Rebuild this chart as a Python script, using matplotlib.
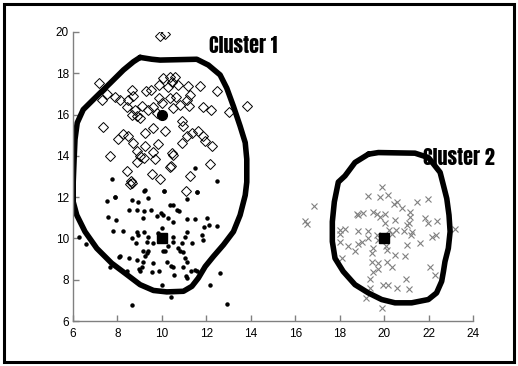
import numpy as np
import matplotlib
matplotlib.use('Agg')
from matplotlib import pyplot as plt
from matplotlib.patches import Rectangle

# cluster 1, upper group (open diamonds)
c1a_x = [9.92, 10.14, 7.16, 7.29, 7.55, 7.89, 8.12, 8.42, 8.67, 8.72, 8.49, 8.87, 9.02, 8.64, 8.79,
         9.09, 9.27, 9.51, 9.39, 9.62, 9.77, 9.89, 10.07, 10.37, 10.59, 9.89, 9.99, 10.29, 10.44,
         10.74, 10.37, 10.64, 10.52, 10.82, 11.12, 11.19, 11.27, 11.24, 11.72, 11.87, 12.2, 12.47,
         13.0, 13.82, 7.37, 8.04, 8.27, 8.49, 8.72, 8.87, 9.02, 9.24, 8.87, 9.2, 9.62, 9.69, 9.84,
         9.24, 9.62, 10.14, 10.44, 10.52, 10.4, 10.89, 10.94, 10.89, 11.12, 11.34, 11.64, 11.87,
         11.94, 12.24, 12.17, 7.67, 8.42, 9.54, 9.92, 11.27, 8.6, 10.37, 11.07, 8.57, 8.64]
c1a_y = [19.8, 19.9, 17.55, 16.69, 17.0, 16.85, 16.72, 16.37, 17.17, 16.88, 16.69, 15.92, 15.84,
         16.0, 16.24, 16.4, 17.12, 17.17, 16.24, 16.37, 16.08, 17.44, 17.76, 17.81, 17.84, 16.8,
         16.56, 17.33, 17.6, 17.44, 16.8, 16.85, 16.32, 16.48, 16.72, 17.36, 16.96, 16.4, 17.36,
         16.37, 16.24, 17.12, 16.11, 16.43, 15.39, 14.83, 15.04, 14.96, 14.64, 14.24, 14.0, 14.48,
         13.68, 13.92, 14.19, 13.87, 14.56, 15.09, 15.36, 15.2, 14.15, 14.03, 13.52, 15.68, 15.47,
         14.64, 14.96, 15.12, 15.2, 14.96, 14.72, 14.48, 13.6, 14.0, 13.28, 13.12, 12.88, 13.04,
         12.8, 13.44, 12.3, 12.65, 12.68]

# cluster 1, lower group (dots)
c1b_x = [6.28, 6.57, 7.55, 7.89, 7.59, 7.94, 7.79, 8.24, 8.64, 8.94, 8.54, 8.9, 9.24, 9.36, 9.2,
         9.5, 9.77, 9.14, 10.1, 9.95, 10.07, 10.37, 10.52, 10.67, 10.79, 10.29, 10.52, 11.12, 11.6,
         11.15, 11.5, 12.02, 12.14, 11.9, 12.5, 11.8, 11.87, 11.34, 11.12, 11.05, 10.9, 10.52,
         10.49, 10.29, 10.07, 9.84, 9.99, 9.62, 9.39, 9.32, 8.94, 8.84, 8.67, 8.87, 9.2, 9.17,
         9.32, 9.24, 9.39, 9.17, 9.09, 9.02, 8.99, 8.9, 8.54, 8.12, 8.09, 8.42, 9.54, 9.62, 9.89,
         10.22, 10.4, 10.52, 10.14, 10.74, 10.82, 10.94, 11.05, 11.12, 10.94, 11.09, 11.15, 11.3,
         11.5, 11.6, 10.55, 9.99, 10.41, 8.67, 12.17, 12.62, 12.92, 7.67, 11.5, 12.47, 7.74, 9.21,
         10.11, 11.6, 7.89]
c1b_y = [10.09, 9.72, 11.82, 12.01, 11.05, 10.89, 10.36, 10.36, 11.85, 11.77, 11.37, 11.37, 12.33,
         11.98, 11.32, 11.37, 11.1, 11.0, 12.28, 11.25, 11.13, 11.61, 11.64, 11.37, 11.32, 10.97,
         10.81, 11.9, 12.25, 10.94, 10.94, 11.0, 10.65, 10.57, 10.6, 10.17, 9.93, 9.8, 10.33, 10.09,
         9.77, 10.09, 9.82, 9.64, 9.41, 10.24, 10.49, 9.77, 10.09, 9.85, 10.17, 9.77, 10.0, 10.29,
         10.33, 9.37, 9.29, 9.17, 9.37, 8.88, 8.64, 8.4, 8.53, 8.97, 9.04, 9.17, 9.08, 8.4, 8.37,
         8.8, 8.43, 8.88, 8.68, 8.6, 9.37, 9.52, 9.4, 9.33, 9.04, 8.88, 8.6, 8.16, 8.08, 8.43, 8.48,
         8.4, 8.21, 7.73, 7.17, 6.77, 7.76, 8.32, 6.8, 8.64, 13.39, 12.79, 12.88, 12.31, 12.28,
         12.24, 12.0]

# cluster 2 (crosses)
c2_x = [16.86, 16.46, 16.55, 19.89, 19.29, 19.81, 20.19, 20.46, 20.6, 20.79, 21.46, 21.99, 18.76,
        18.84, 19.06, 19.51, 19.7, 19.81, 20.04, 20.04, 20.49, 21.16, 21.16, 21.1, 21.84, 21.99,
        22.36, 18.01, 18.26, 18.01, 18.84, 19.29, 19.29, 19.66, 19.74, 20.22, 20.34, 20.52, 20.91,
        21.01, 21.21, 21.27, 22.14, 22.32, 23.19, 18.01, 18.39, 18.69, 18.81, 18.99, 19.51, 19.44,
        20.07, 20.11, 21.01, 21.61, 20.49, 20.94, 18.09, 19.44, 19.74, 20.11, 20.34, 19.74, 19.51,
        22.06, 22.29, 19.36, 19.96, 20.19, 20.56, 20.97, 21.12, 19.36, 19.17, 19.89]
c2_y = [11.58, 10.84, 10.7, 12.49, 12.04, 12.01, 12.12, 11.69, 11.77, 11.48, 11.77, 11.9, 11.16,
        11.13, 11.21, 11.29, 11.16, 11.05, 11.16, 10.73, 10.89, 11.29, 11.05, 10.73, 10.97, 10.73,
        10.84, 10.41, 10.46, 10.2, 10.36, 10.36, 10.04, 10.17, 9.93, 10.41, 10.2, 10.41, 10.36,
        10.65, 10.17, 10.33, 10.09, 10.17, 10.46, 9.82, 9.61, 9.37, 9.72, 9.85, 9.52, 9.28, 9.61,
        9.45, 9.69, 9.77, 9.21, 9.17, 9.04, 8.85, 8.8, 8.85, 8.6, 8.53, 8.37, 8.6, 8.21, 8.03, 7.76,
        7.73, 7.6, 8.03, 7.57, 7.6, 7.12, 6.61]

# centroids
cen_x = [10, 10, 20]
cen_y = [16, 10, 10]

# hand drawn cluster outlines
b1_x = [9.02, 9.55, 9.92, 11.57, 12.09, 12.62, 12.92, 13.22, 13.52, 13.75, 13.82, 13.82, 13.75,
        13.52, 13.22, 12.77, 12.32, 11.95, 11.64, 11.35, 10.97, 10.22, 9.62, 9.02, 8.42, 7.74,
        7.07, 6.54, 6.17, 6.01, 6.01, 6.05, 6.09, 6.19, 6.46, 6.91, 7.67, 8.27, 8.72, 9.02]
b1_y = [18.77, 18.68, 18.64, 18.68, 18.4, 17.92, 17.28, 16.4, 15.44, 14.64, 13.84, 12.73, 12.09,
        11.13, 10.33, 9.69, 9.13, 8.64, 8.08, 7.68, 7.44, 7.41, 7.48, 7.76, 8.25, 8.8, 9.52,
        10.33, 11.13, 11.77, 12.73, 13.84, 14.8, 15.6, 16.24, 16.72, 17.52, 18.16, 18.56, 18.77]
b2_x = [19.29, 19.74, 21.39, 21.99, 22.52, 22.67, 22.82, 22.92, 22.97, 22.89, 22.74, 22.67, 22.59,
        22.36, 21.99, 21.24, 20.49, 19.89, 19.29, 18.69, 18.16, 17.79, 17.67, 17.67, 17.76, 17.94,
        18.24, 18.69, 19.29]
b2_y = [14.08, 14.16, 14.13, 13.92, 13.2, 12.57, 11.93, 11.13, 10.33, 9.52, 8.88, 8.4, 7.92,
        7.36, 7.04, 6.88, 6.88, 7.04, 7.36, 7.76, 8.4, 9.04, 9.85, 10.81, 11.77, 12.73, 13.03,
        13.68, 14.08]

labels = ['Cluster 1', 'Cluster 2']
label_x = [13.64, 23.36]
label_y = [19.37, 13.9]

plt.rcParams['font.family'] = ['Liberation Sans', 'DejaVu Sans']

fig = plt.figure(figsize=(5.18, 3.66), dpi=100)
ax = fig.add_axes([73 / 518, 45 / 366, 400 / 518, 289 / 366])

ax.plot(c1a_x, c1a_y, 'D', ms=5, mfc='none', mec='black', mew=0.7)
ax.plot(c1b_x, c1b_y, 'o', ms=2.2, color='black')
ax.plot(c2_x, c2_y, 'x', ms=4.2, mew=0.8, color='#808080')
ax.plot(cen_x[:1], cen_y[:1], 'o', ms=7, color='black')
ax.plot(cen_x[1:], cen_y[1:], 's', ms=6.5, color='black')

ax.plot(b1_x, b1_y, color='black', lw=4, solid_joinstyle='round', solid_capstyle='round')
ax.plot(b2_x, b2_y, color='black', lw=4, solid_joinstyle='round', solid_capstyle='round')

for t, x, y in zip(labels, label_x, label_y):
    ax.text(x, y, t, ha='center', va='center', fontsize=14.5,
            family=['Anton', 'DejaVu Sans'], clip_on=False)

ax.set_xlim(6, 24)
ax.set_ylim(6, 20)
ax.set_xticks(range(6, 25, 2))
ax.set_yticks(range(6, 21, 2))
for s in ['top', 'right']:
    ax.spines[s].set_visible(False)
for s in ['left', 'bottom']:
    ax.spines[s].set_color('#808080')
    ax.spines[s].set_linewidth(1)
ax.tick_params(direction='in', length=4, width=1, color='#808080', labelsize=8.5)
ax.tick_params(axis='x', pad=5)
ax.tick_params(axis='y', pad=3)

# frame round the whole figure
fig.patches.append(Rectangle((4 / 518, 4 / 366), 510 / 518, 358 / 366, transform=fig.transFigure,
                             fill=False, edgecolor='black', linewidth=2.2))

fig.savefig('out.png', dpi=100)
